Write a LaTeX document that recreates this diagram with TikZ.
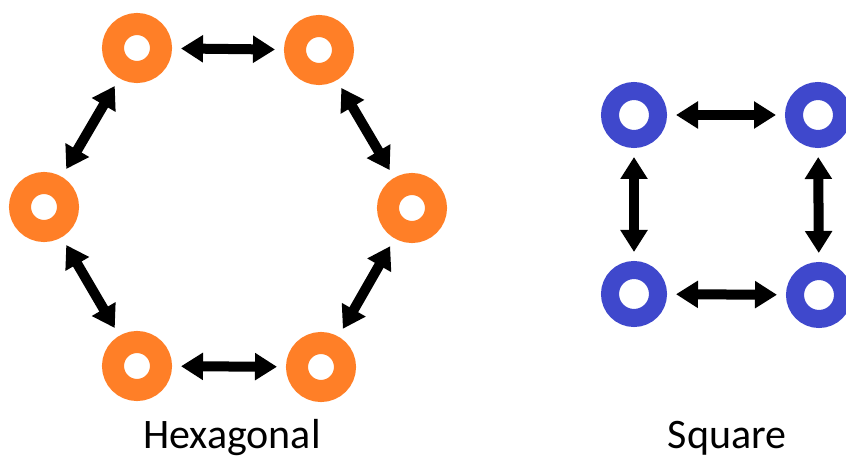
\documentclass[tikz,border=0pt]{standalone}
\usepackage{fontspec}
\setmainfont{Carlito}
\usetikzlibrary{arrows.meta}
\definecolor{ringorange}{RGB}{255,127,39}
\definecolor{ringblue}{RGB}{63,72,204}
\begin{document}
\begin{tikzpicture}[x=1pt,y=-1pt,
  hexring/.style={circle,draw=ringorange,line width=22pt,minimum size=48pt,inner sep=0pt},
  sqring/.style={circle,draw=ringblue,line width=18pt,minimum size=48pt,inner sep=0pt},
  link/.style={line width=10pt,{Triangle[length=22pt,width=26pt]}-{Triangle[length=22pt,width=26pt]},shorten <=9pt,shorten >=9pt},
  lbl/.style={font=\fontsize{42}{50}\selectfont,anchor=base,inner sep=0pt}]
\useasboundingbox (0,0) rectangle (846,457);
\clip (0,0) rectangle (846,457);
% hexagonal
\node[hexring] (h1) at (137,48) {};
\node[hexring] (h2) at (319,50) {};
\node[hexring] (h3) at (412,208) {};
\node[hexring] (h4) at (321,367) {};
\node[hexring] (h5) at (137,366) {};
\node[hexring] (h6) at (44,207) {};
\draw[link] (h1) -- (h2);
\draw[link] (h2) -- (h3);
\draw[link] (h3) -- (h4);
\draw[link] (h4) -- (h5);
\draw[link] (h5) -- (h6);
\draw[link] (h6) -- (h1);
% square
\node[sqring] (s1) at (634,115) {};
\node[sqring] (s2) at (818,115) {};
\node[sqring] (s3) at (819,295) {};
\node[sqring] (s4) at (634,294) {};
\draw[link] (s1) -- (s2);
\draw[link] (s2) -- (s3);
\draw[link] (s3) -- (s4);
\draw[link] (s4) -- (s1);
% labels
\node[lbl] (lh) at (232,448) {Hexagonal};
\node[lbl] (ls) at (727,448) {Square};
\end{tikzpicture}
\end{document}
